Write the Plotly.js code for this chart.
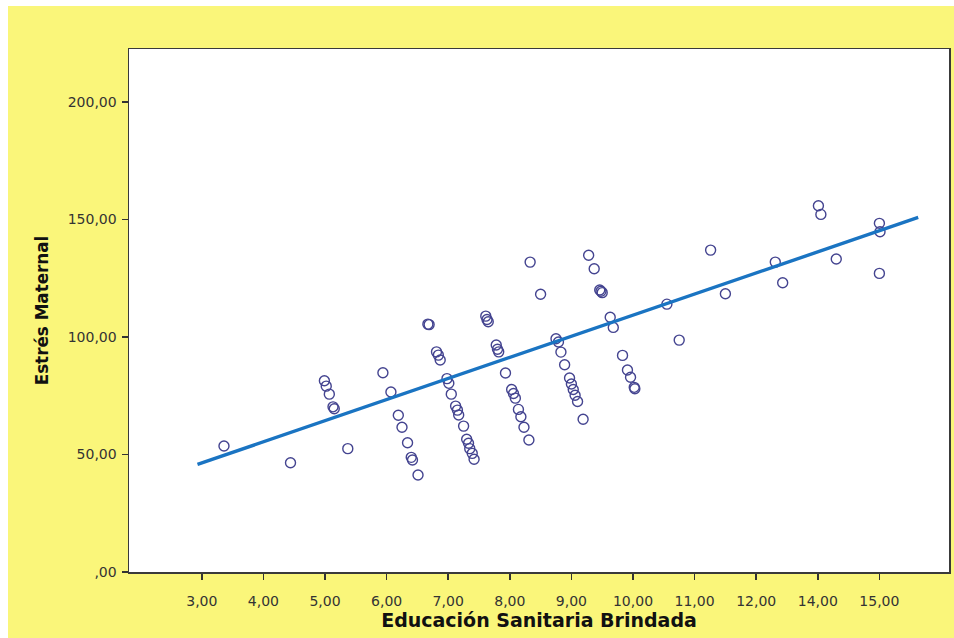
<!DOCTYPE html>
<html>
<head>
<meta charset="utf-8">
<script src="https://cdn.plot.ly/plotly-3.0.1.min.js"></script>
<style>
  html, body { margin: 0; padding: 0; background: #ffffff; }
  #frame { position: absolute; left: 8px; top: 6px; width: 946px; height: 632px; background: #faf67a; }
  #chart { position: absolute; left: 0; top: 0; width: 954px; height: 638px; }
</style>
</head>
<body>
<div id="frame"></div>
<div id="chart"></div>
<script>
// Educación sanitaria brindada (x) vs. estrés maternal (y)
const educacion = [
  3.36, 4.44,
  4.99, 5.02, 5.07, 5.13, 5.15, 5.37, 5.94,
  6.07, 6.19, 6.25, 6.34, 6.40, 6.42, 6.51,
  6.67, 6.69, 6.81, 6.84, 6.87,
  6.98, 7.01, 7.05, 7.12, 7.15, 7.17, 7.25, 7.30, 7.33, 7.35, 7.39, 7.42,
  7.61, 7.63, 7.65, 7.78, 7.80, 7.82, 7.93,
  8.03, 8.06, 8.09, 8.14, 8.18, 8.23, 8.31,
  8.33, 8.50,
  8.75, 8.79, 8.83, 8.89, 8.97, 9.00, 9.03, 9.06, 9.10, 9.19,
  9.28, 9.37, 9.46, 9.48, 9.50, 9.63, 9.68,
  9.83, 9.91, 9.96, 10.02, 10.03,
  10.55, 10.75, 11.26, 11.50, 12.31, 12.43,
  13.01, 13.05, 13.30, 14.00, 14.01, 14.00
];
const estres = [
  53.6, 46.5,
  81.4, 79.1, 75.7, 70.3, 69.5, 52.5, 84.8,
  76.6, 66.7, 61.6, 55.0, 48.8, 47.7, 41.3,
  105.5, 105.3, 93.7, 92.3, 90.2,
  82.3, 80.3, 75.7, 70.6, 68.9, 66.8, 62.1, 56.5, 54.8, 52.5, 50.5, 48.0,
  108.9, 107.5, 106.5, 96.6, 94.8, 93.7, 84.7,
  77.7, 76.0, 74.0, 69.2, 66.1, 61.6, 56.2,
  131.9, 118.2,
  99.3, 97.9, 93.6, 88.2, 82.6, 80.0, 77.7, 75.2, 72.6, 65.0,
  134.8, 129.1, 120.0, 119.5, 118.9, 108.4, 104.1,
  92.2, 86.0, 82.9, 78.6, 78.0,
  114.0, 98.7, 137.0, 118.4, 131.9, 123.1,
  155.9, 152.2, 133.2, 148.4, 144.8, 127.1
];

// Recta de ajuste lineal
const ajusteX = [2.93, 14.63];
const ajusteY = [45.8, 150.9];

// Marcas de los ejes
const xTickVals = [3, 4, 5, 6, 7, 8, 9, 10, 11, 12, 13, 14];
const xTickText = ["3,00", "4,00", "5,00", "6,00", "7,00", "8,00", "9,00", "10,00", "11,00", "12,00", "14,00", "15,00"];
const yTickVals = [0, 50, 100, 150, 200];
const yTickText = [",00", "50,00", "100,00", "150,00", "200,00"];

const tickFont = { family: "DejaVu Sans, Arial, sans-serif", size: 14, color: "#333333" };
const xTitleFont = { family: "DejaVu Sans, Arial, sans-serif", size: 19, color: "#111111", weight: "bold" };
const yTitleFont = { family: "DejaVu Sans, Arial, sans-serif", size: 16.8, color: "#111111", weight: "bold" };

const data = [
  {
    type: "scatter",
    mode: "markers",
    x: educacion,
    y: estres,
    marker: {
      symbol: "circle-open",
      size: 10,
      color: "#444490",
      line: { width: 1.4, color: "#444490" }
    },
    hoverinfo: "x+y"
  },
  {
    type: "scatter",
    mode: "lines",
    x: ajusteX,
    y: ajusteY,
    line: { color: "#1a74c2", width: 3.4 },
    hoverinfo: "skip"
  }
];

const layout = {
  width: 954,
  height: 638,
  margin: { l: 129, r: 5, t: 49, b: 66 },
  paper_bgcolor: "rgba(0,0,0,0)",
  plot_bgcolor: "#ffffff",
  showlegend: false,
  xaxis: {
    range: [1.818, 15.13],
    tickvals: xTickVals,
    ticktext: xTickText,
    ticks: "outside",
    ticklen: 6,
    tickwidth: 1.5,
    tickcolor: "#333333",
    tickfont: tickFont,
    ticklabelstandoff: 10,
    showgrid: false,
    zeroline: false,
    showline: true,
    mirror: true,
    linecolor: "#3a3a3a",
    linewidth: 1.5,
    title: { text: "Educación Sanitaria Brindada", font: xTitleFont, standoff: 2 }
  },
  yaxis: {
    range: [0, 222.6],
    tickvals: yTickVals,
    ticktext: yTickText,
    ticks: "outside",
    ticklen: 6,
    tickwidth: 1.5,
    tickcolor: "#333333",
    tickfont: tickFont,
    ticklabelstandoff: 2,
    showgrid: false,
    zeroline: false,
    showline: true,
    mirror: true,
    linecolor: "#3a3a3a",
    linewidth: 1.5,
    title: { text: "Estrés Maternal", font: yTitleFont, standoff: 15 }
  }
};

Plotly.newPlot("chart", data, layout, { displayModeBar: false, staticPlot: true });
</script>
</body>
</html>
